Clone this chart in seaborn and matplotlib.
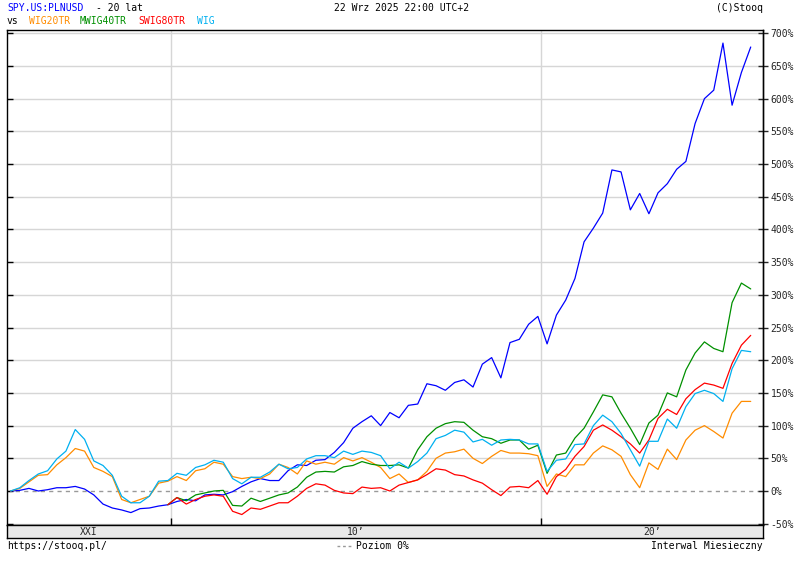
import pandas as pd
import matplotlib
matplotlib.use("Agg")
import matplotlib.pyplot as plt
import matplotlib.dates as mdates
from matplotlib.lines import Line2D
import seaborn as sns

# ---- data (quarterly readings, % change) ----
dates = pd.date_range("2005-09-01", periods=81, freq="3MS")

spy = [0, 1, 4, 0, 2, 5, 5, 7, 3, -6,
       -20, -26, -29, -33, -27, -26, -23, -21, -16, -13,
       -15, -6, -5, -6, -1, 7, 14, 19, 16, 16,
       31, 40, 39, 47, 48, 59, 74, 96, 106, 115,
       100, 120, 112, 131, 133, 164, 161, 154, 166, 170,
       159, 194, 204, 173, 227, 232, 255, 267, 225, 269,
       292, 325, 381, 402, 425, 491, 488, 430, 455, 424,
       456, 470, 492, 504, 562, 600, 613, 685, 590, 640,
       679]

wig = [0, 5, 16, 26, 31, 49, 61, 94, 79, 46,
       39, 24, -8, -18, -18, -8, 15, 16, 27, 24,
       36, 40, 47, 44, 19, 11, 21, 21, 29, 41,
       34, 36, 49, 54, 54, 51, 61, 56, 61, 59,
       54, 34, 44, 35, 45, 58, 80, 85, 93, 90,
       75, 79, 70, 78, 79, 78, 72, 72, 30, 47,
       49, 71, 72, 100, 116, 106, 88, 63, 38, 76,
       76, 110, 96, 129, 149, 154, 149, 137, 187, 215,
       213]

wig20tr = [0, 4, 14, 24, 25, 40, 51, 65, 61, 36,
           30, 22, -13, -18, -13, -8, 12, 15, 22, 16,
           31, 34, 44, 41, 22, 19, 21, 19, 26, 41,
           36, 26, 46, 41, 44, 41, 51, 46, 51, 44,
           36, 19, 26, 13, 17, 30, 50, 58, 60, 64,
           50, 42, 53, 62, 58, 58, 57, 54, 7, 26,
           22, 40, 40, 58, 69, 63, 53, 25, 5, 43,
           33, 64, 48, 78, 93, 100, 91, 81, 119, 137,
           137]

# these two series start in Dec 2009 (index 17)
late_start = 17
mwig40tr = [-21, -10, -15,
            -6, -3, 0, 1, -22, -23, -11, -16, -11, -6,
            -3, 6, 21, 29, 30, 29, 37, 39, 45, 41,
            39, 39, 40, 35, 63, 83, 96, 103, 106, 105,
            93, 83, 80, 73, 78, 78, 64, 70, 27, 55,
            58, 81, 96, 121, 147, 144, 119, 96, 71, 104,
            116, 150, 144, 185, 211, 228, 218, 213, 288, 318,
            309]

swig80tr = [-21, -10, -20,
            -13, -8, -6, -8, -31, -36, -26, -28, -23, -18,
            -18, -8, 4, 11, 9, 1, -3, -4, 6, 4,
            5, 0, 9, 13, 17, 25, 34, 32, 25, 23,
            17, 12, 2, -7, 6, 7, 5, 16, -5, 22,
            33, 53, 68, 93, 101, 93, 83, 72, 58, 78,
            111, 125, 117, 141, 155, 165, 162, 157, 195, 223,
            238]

names = ["SPY.US:PLNUSD", "WIG20TR", "MWIG40TR", "SWIG80TR", "WIG"]
colors = {"SPY.US:PLNUSD": "#0000ff", "WIG20TR": "#ff8c00",
          "MWIG40TR": "#009000", "SWIG80TR": "#ff0000", "WIG": "#00b0f0"}
yticks = list(range(-50, 701, 50))

frames = [
    pd.DataFrame({"date": dates, "value": spy, "series": names[0]}),
    pd.DataFrame({"date": dates, "value": wig20tr, "series": names[1]}),
    pd.DataFrame({"date": dates[late_start:], "value": mwig40tr, "series": names[2]}),
    pd.DataFrame({"date": dates[late_start:], "value": swig80tr, "series": names[3]}),
    pd.DataFrame({"date": dates, "value": wig, "series": names[4]}),
]
df = pd.concat(frames, ignore_index=True)

# ---- figure ----
sns.set_style("white")
plt.rcParams["font.family"] = ["DejaVu Sans Mono", "DejaVu Sans"]
FS = 7

W, H = 806, 562
fig = plt.figure(figsize=(W / 100, H / 100), dpi=100)
L, R, T, B = 7, 763, 30, 525
ax = fig.add_axes([L / W, 1 - B / H, (R - L) / W, (B - T) / H])

x2010 = mdates.date2num(pd.Timestamp("2010-01-01"))
x2020 = mdates.date2num(pd.Timestamp("2020-01-01"))
dpp = (x2020 - x2010) / 370.0
xl, xr = x2010 - 164 * dpp, x2010 + 592 * dpp

for v in yticks:
    if v != 0:
        ax.axhline(v, color="#d6d6d6", lw=1.0, zorder=0)
ax.axhline(0, color="#999999", lw=1.0, ls=(0, (3, 3)), zorder=0)
for xv in (x2010, x2020):
    ax.axvline(xv, color="#d6d6d6", lw=1.0, zorder=0)

sns.lineplot(data=df, x="date", y="value", hue="series", hue_order=names,
             palette=colors, ax=ax, legend=False, linewidth=0.9,
             estimator=None, sort=False)

ax.set_xlim(xl, xr)
ax.set_ylim(-52, 705)
ax.set_xlabel("")
ax.set_ylabel("")
ax.set_xticks([x2010, x2020])
ax.set_xticklabels([])
ax.tick_params(axis="x", direction="in", length=5, width=1, color="black", bottom=True)
ax.set_yticks(yticks)
ax.set_yticklabels([])
ax.tick_params(axis="y", direction="in", length=4, width=1, color="black", left=True)
for s in ax.spines.values():
    s.set_color("black")
    s.set_linewidth(1.0)

sec = ax.secondary_yaxis("right")
sec.set_yticks(yticks)
sec.set_yticklabels([f"{v}%" for v in yticks])
sec.tick_params(axis="y", direction="inout", length=7, width=1, labelsize=FS, pad=2)
sec.spines["right"].set_linewidth(1.0)

# bottom band
bax = fig.add_axes([L / W, 1 - 538 / H, (R - L) / W, 13 / H])
bax.set_facecolor("#e8e8e8")
bax.set_xlim(xl, xr)
bax.set_ylim(0, 1)
bax.set_xticks([])
bax.set_yticks([])
for s in bax.spines.values():
    s.set_color("black")
    s.set_linewidth(1.0)
for lab, cx in (("XXI", (xl + x2010) / 2), ("10’", (x2010 + x2020) / 2), ("20’", (x2020 + xr) / 2)):
    bax.text(cx, 0.45, lab, ha="center", va="center", fontsize=FS)

def ftext(x, y, s, color="black", ha="left"):
    fig.text(x / W, 1 - y / H, s, color=color, ha=ha, va="center", fontsize=FS)

ftext(7, 8, "SPY.US:PLNUSD", colors["SPY.US:PLNUSD"])
ftext(96, 8, "- 20 lat")
ftext(402, 8, "22 Wrz 2025 22:00 UTC+2", ha="center")
ftext(763, 8, "(C)Stooq", ha="right")
ftext(7, 21, "vs")
ftext(29, 21, "WIG20TR", colors["WIG20TR"])
ftext(80, 21, "MWIG40TR", colors["MWIG40TR"])
ftext(138, 21, "SWIG80TR", colors["SWIG80TR"])
ftext(197, 21, "WIG", colors["WIG"])

ftext(7, 546, "https://stooq.pl/")
fig.add_artist(Line2D([337 / W, 351 / W], [1 - 546 / H, 1 - 546 / H],
                      color="#999999", lw=1.0, ls=(0, (2, 2))))
ftext(356, 546, "Poziom 0%")
ftext(763, 546, "Interwal Miesieczny", ha="right")

fig.savefig("out.png", dpi=100, facecolor="white")
